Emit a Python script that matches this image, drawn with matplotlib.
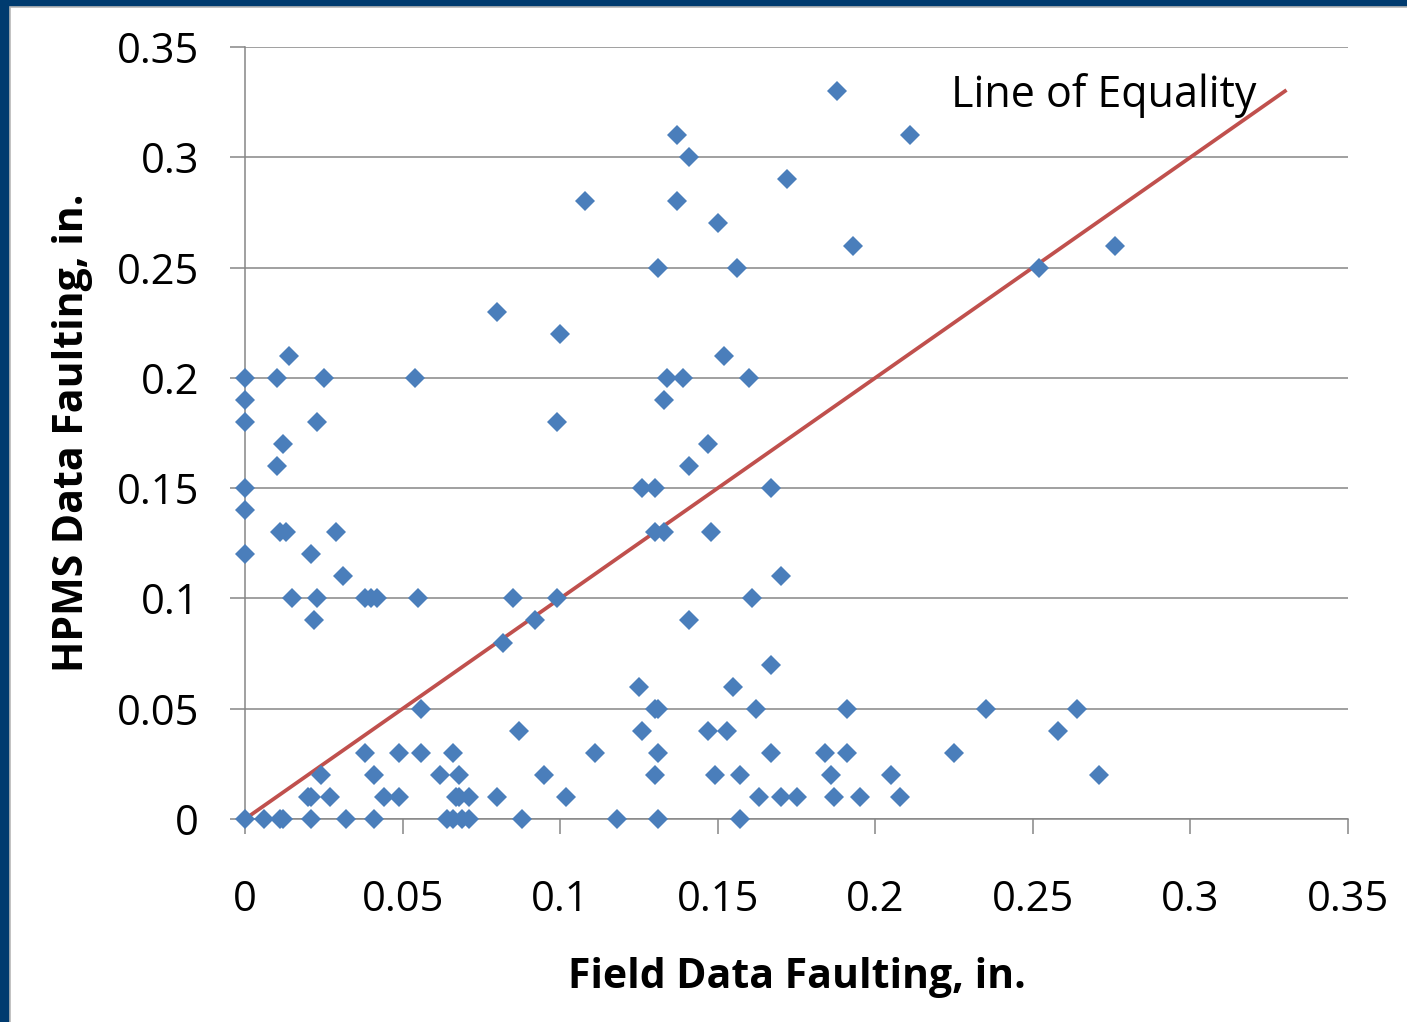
import numpy as np
import matplotlib
matplotlib.use("Agg")
import matplotlib.pyplot as plt
from matplotlib.patches import Rectangle

# field (x) vs HPMS (y) faulting, inches
field = [
    0.188,
    0.137, 0.211,
    0.141,
    0.172,
    0.108, 0.137,
    0.150,
    0.193, 0.276,
    0.131, 0.156, 0.252,
    0.080,
    0.100,
    0.014, 0.152,
    0.0, 0.010, 0.025, 0.054, 0.134, 0.139, 0.160,
    0.0, 0.133,
    0.0, 0.023, 0.099,
    0.012, 0.147,
    0.010, 0.141,
    0.0, 0.126, 0.130, 0.167,
    0.0,
    0.011, 0.013, 0.029, 0.130, 0.133, 0.148,
    0.0, 0.021,
    0.031, 0.170,
    0.015, 0.023, 0.038, 0.040, 0.042, 0.055, 0.085, 0.099, 0.161,
    0.022, 0.092, 0.141,
    0.082,
    0.167,
    0.125, 0.155,
    0.056, 0.130, 0.131, 0.162, 0.191, 0.235, 0.264,
    0.087, 0.126, 0.147, 0.153, 0.258,
    0.038, 0.049, 0.056, 0.066, 0.111, 0.131, 0.167, 0.184, 0.191, 0.225,
    0.024, 0.041, 0.062, 0.068, 0.095, 0.130, 0.149, 0.157, 0.186, 0.205, 0.271,
    0.020, 0.021, 0.027, 0.044, 0.049, 0.067, 0.068, 0.071, 0.080, 0.102,
    0.163, 0.170, 0.175, 0.187, 0.195, 0.208,
    0.0, 0.006, 0.011, 0.012, 0.021, 0.032, 0.041, 0.064, 0.066, 0.069,
    0.071, 0.088, 0.118, 0.131, 0.157,
]
hpms = (
    [0.33] * 1 + [0.31] * 2 + [0.30] * 1 + [0.29] * 1 + [0.28] * 2 + [0.27] * 1
    + [0.26] * 2 + [0.25] * 3 + [0.23] * 1 + [0.22] * 1 + [0.21] * 2 + [0.20] * 7
    + [0.19] * 2 + [0.18] * 3 + [0.17] * 2 + [0.16] * 2 + [0.15] * 4 + [0.14] * 1
    + [0.13] * 6 + [0.12] * 2 + [0.11] * 2 + [0.10] * 9 + [0.09] * 3 + [0.08] * 1
    + [0.07] * 1 + [0.06] * 2 + [0.05] * 7 + [0.04] * 5 + [0.03] * 10 + [0.02] * 11
    + [0.01] * 16 + [0.00] * 15
)
equality = [0.0, 0.33]
ticks = [0, 0.05, 0.1, 0.15, 0.2, 0.25, 0.3, 0.35]
tick_labels = ["0", "0.05", "0.1", "0.15", "0.2", "0.25", "0.3", "0.35"]

plt.rcParams['font.family'] = ['Open Sans', 'DejaVu Sans']

W, H = 1407, 1022
fig = plt.figure(figsize=(W / 100, H / 100), dpi=100, facecolor='#003b6f')
# white slide area with a thin grey edge under the navy frame
fig.add_artist(Rectangle((10 / W, -0.01), 1, 1.01 - 7 / H, transform=fig.transFigure,
                         facecolor='white', edgecolor='#b8b8b8', linewidth=1.2, zorder=-10))

ax = fig.add_axes([245 / W, 1 - 819 / H, (1348 - 245) / W, (819 - 47) / H])
ax.set_facecolor('white')
ax.set_xlim(0, 0.35)
ax.set_ylim(0, 0.35)

ax.yaxis.grid(True, color='#868686', linewidth=1.1)
ax.set_axisbelow(True)
for s in ['top', 'right']:
    ax.spines[s].set_visible(False)
for s in ['left', 'bottom']:
    ax.spines[s].set_color('#868686')
    ax.spines[s].set_linewidth(1.1)
    ax.spines[s].set_zorder(1)

ax.plot(equality, equality, color='#c0504d', linewidth=2.7, zorder=2)
ax.plot(field, hpms, linestyle='none', marker='D', markersize=9.8,
        color='#4a7ebb', markeredgewidth=0, zorder=3, clip_on=False)

ax.set_xticks(ticks)
ax.set_xticklabels(tick_labels)
ax.set_yticks(ticks)
ax.set_yticklabels(tick_labels)
ax.tick_params(axis='both', length=11, width=1.1, color='#868686',
               labelsize=30, labelcolor='black')
ax.tick_params(axis='x', pad=32)
ax.tick_params(axis='y', pad=22)

ax.set_xlabel('Field Data Faulting, in.', fontsize=29.5, fontweight='bold', labelpad=26)
ax.set_ylabel('HPMS Data Faulting, in.', fontsize=29.5, fontweight='bold', labelpad=17)

ax.text(0.224, 0.328, 'Line of Equality', fontsize=31, va='center', ha='left')

fig.savefig('out.png', dpi=100, facecolor=fig.get_facecolor())
